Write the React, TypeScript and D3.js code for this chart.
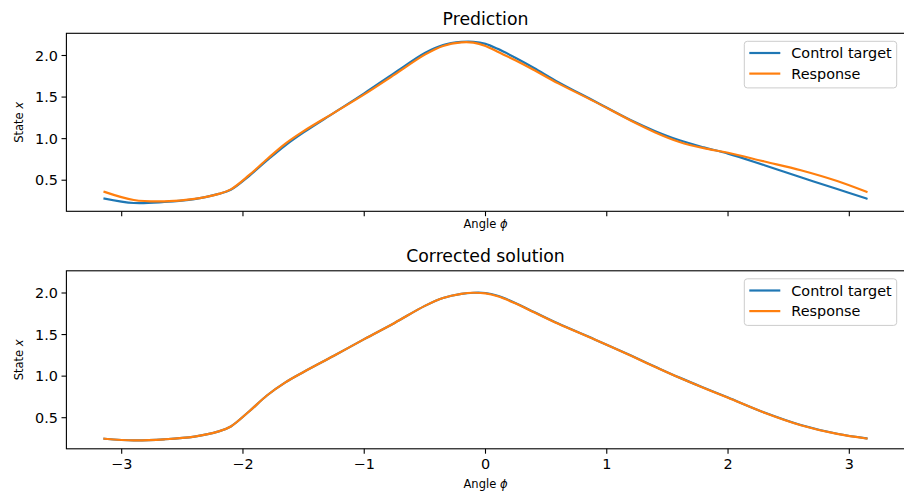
import React from "react";
import * as d3 from "d3";

const angles = [-3.1416, -2.9, -2.65, -2.4, -2.2, -2.1, -1.95, -1.8, -1.65, -1.5, -1.25, -1.0, -0.75, -0.5, -0.35, -0.2, -0.1, 0, 0.1, 0.25, 0.4, 0.6, 0.9, 1.2, 1.4, 1.6, 1.8, 2.0, 2.3, 2.6, 2.9, 3.1416];

const predTarget = [0.279, 0.226, 0.238, 0.272, 0.335, 0.385, 0.55, 0.74, 0.92, 1.075, 1.31, 1.545, 1.79, 2.03, 2.125, 2.163, 2.165, 2.14, 2.08, 1.97, 1.85, 1.68, 1.45, 1.22, 1.09, 0.98, 0.895, 0.82, 0.68, 0.535, 0.395, 0.279];
const predResponse = [0.36, 0.262, 0.245, 0.275, 0.335, 0.39, 0.56, 0.755, 0.94, 1.09, 1.31, 1.532, 1.77, 2.01, 2.115, 2.158, 2.155, 2.115, 2.045, 1.94, 1.825, 1.665, 1.445, 1.215, 1.075, 0.96, 0.885, 0.83, 0.725, 0.62, 0.49, 0.36];

const corrTarget = [0.247, 0.228, 0.24, 0.272, 0.335, 0.395, 0.575, 0.77, 0.925, 1.05, 1.245, 1.445, 1.64, 1.845, 1.94, 1.99, 2.003, 2.0, 1.966, 1.878, 1.772, 1.632, 1.442, 1.247, 1.113, 0.982, 0.86, 0.742, 0.562, 0.412, 0.307, 0.252];
const corrResponse = [0.247, 0.228, 0.24, 0.272, 0.335, 0.395, 0.575, 0.77, 0.925, 1.05, 1.245, 1.445, 1.64, 1.845, 1.94, 1.99, 2.003, 1.995, 1.96, 1.873, 1.768, 1.63, 1.44, 1.245, 1.11, 0.98, 0.858, 0.74, 0.56, 0.41, 0.305, 0.25];

const xTicks = [-3, -2, -1, 0, 1, 2, 3];
const yTicks = [0.5, 1.0, 1.5, 2.0];
const xDomain = [-3.456, 3.456];
const yDomain = [0.126, 2.267];
const seriesNames = ["Control target", "Response"];
const titles = ["Prediction", "Corrected solution"];

const BLUE = "#1f77b4";
const ORANGE = "#ff7f0e";
const FONT = "DejaVu Sans, sans-serif";

const W = 904;
const H = 493;
const left = 66.4;
const right = 904.6;
const panels = [
  { top: 33.3, bottom: 211.3, target: predTarget, response: predResponse, title: titles[0], showTickLabels: false },
  { top: 270.8, bottom: 448.8, target: corrTarget, response: corrResponse, title: titles[1], showTickLabels: true },
];

function Panel({ p }: { p: typeof panels[0] }) {
  const x = d3.scaleLinear().domain(xDomain).range([left, right]);
  const y = d3.scaleLinear().domain(yDomain).range([p.bottom, p.top]);
  const line = d3
    .line<number>()
    .x((_, i) => x(angles[i]))
    .y((d) => y(d))
    .curve(d3.curveCatmullRom.alpha(0.5));
  const cy = (p.top + p.bottom) / 2;
  const cx = (left + right) / 2;
  const lx = 744.3;
  const ly = p.top + 8;
  return (
    <g>
      <path d={line(p.target) || ""} fill="none" stroke={BLUE} strokeWidth={2.2} strokeLinejoin="round" strokeLinecap="square" />
      <path d={line(p.response) || ""} fill="none" stroke={ORANGE} strokeWidth={2.2} strokeLinejoin="round" strokeLinecap="square" />
      <rect x={left} y={p.top} width={right - left} height={p.bottom - p.top} fill="none" stroke="#000" strokeWidth={1.1} />
      {yTicks.map((t) => (
        <g key={"y" + t}>
          <line x1={left - 4.9} x2={left} y1={y(t)} y2={y(t)} stroke="#000" strokeWidth={1.1} />
          <text x={left - 8.5} y={y(t) + 5.2} textAnchor="end" fontSize={14.4} fontFamily={FONT} fill="#000">
            {t.toFixed(1)}
          </text>
        </g>
      ))}
      {xTicks.map((t) => (
        <g key={"x" + t}>
          <line x1={x(t)} x2={x(t)} y1={p.bottom} y2={p.bottom + 4.9} stroke="#000" strokeWidth={1.1} />
          {p.showTickLabels && (
            <text x={x(t)} y={p.bottom + 20.5} textAnchor="middle" fontSize={14.4} fontFamily={FONT} fill="#000">
              {t < 0 ? "\u2212" + Math.abs(t) : String(t)}
            </text>
          )}
        </g>
      ))}
      <text x={cx} y={p.showTickLabels ? p.bottom + 39.5 : p.bottom + 16.5} textAnchor="middle" fontSize={11.5} fontFamily={FONT} fill="#000">
        Angle <tspan fontStyle="italic">ϕ</tspan>
      </text>
      <text transform={`translate(22.5,${cy}) rotate(-90)`} textAnchor="middle" fontSize={11.5} fontFamily={FONT} fill="#000">
        State <tspan fontStyle="italic">x</tspan>
      </text>
      <text x={cx} y={p.top - 8.6} textAnchor="middle" fontSize={17.3} fontFamily={FONT} fill="#000">
        {p.title}
      </text>
      <rect x={lx} y={ly} width={152.4} height={46.6} rx={3} fill="#fff" fillOpacity={0.8} stroke="#cccccc" strokeWidth={1} />
      {seriesNames.map((n, i) => (
        <g key={n}>
          <line x1={lx + 5} x2={lx + 36} y1={ly + 11.7 + i * 20.6} y2={ly + 11.7 + i * 20.6} stroke={i === 0 ? BLUE : ORANGE} strokeWidth={2.2} />
          <text x={lx + 47} y={ly + 11.7 + i * 20.6 + 5.2} fontSize={14.4} fontFamily={FONT} fill="#000">
            {n}
          </text>
        </g>
      ))}
    </g>
  );
}

export default function App() {
  return (
    <svg width={W} height={H} style={{ position: "absolute", left: 0, top: 0, background: "#fff" }}>
      <rect x={0} y={0} width={W} height={H} fill="#fff" />
      {panels.map((p, i) => (
        <Panel key={i} p={p} />
      ))}
    </svg>
  );
}
